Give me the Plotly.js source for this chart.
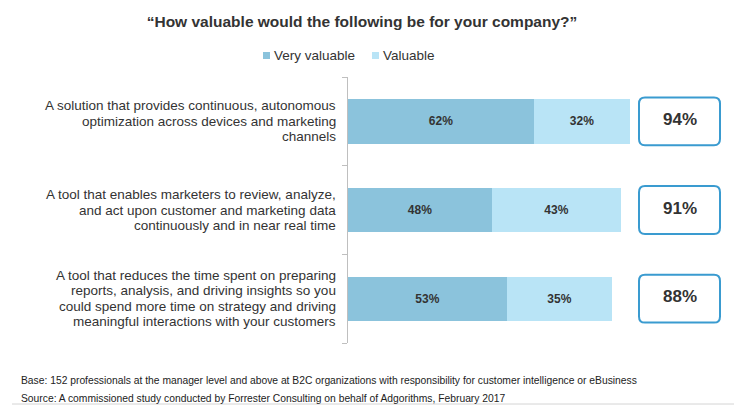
<!DOCTYPE html>
<html><head><meta charset="utf-8">
<script src="https://cdn.plot.ly/plotly-3.0.1.min.js"></script>
<style>body{margin:0;background:#fff}#c{width:752px;height:413px}</style>
</head><body><div id="c"></div>
<script>
const categories = [
  "A solution that provides continuous, autonomous<br>optimization across devices and marketing<br>channels",
  "A tool that enables marketers to review, analyze,<br>and act upon customer and marketing data<br>continuously and in near real time",
  "A tool that reduces the time spent on preparing<br>reports, analysis, and driving insights so you<br>could spend more time on strategy and driving<br>meaningful interactions with your customers"
];
const veryValuable = [62, 48, 53];
const valuable = [32, 43, 35];
const totals = [94, 91, 88];
const seriesNames = ["Very valuable", "Valuable"];
const seriesColors = ["#8bc3dc", "#b9e4f6"];

const L = 348, T = 77, PW = 375, PH = 266;
const px2x = p => (p - L) / PW;
const px2y = p => (T + PH - p) / PH;

const yIdx = categories.map((_, i) => i);
const FONT = "Liberation Sans, Arial, sans-serif";
const NARROW = "Liberation Sans Narrow, Arial Narrow, sans-serif";
const barFont = {family: FONT, size: 12, color: "#333333", weight: "bold"};

const traces = seriesNames.map((n, k) => ({
  type: "bar", orientation: "h", name: n, y: yIdx, x: k === 0 ? veryValuable : valuable,
  marker: {color: seriesColors[k]}, width: 0.5,
  text: (k === 0 ? veryValuable : valuable).map(v => v + "%"),
  textposition: "inside", insidetextanchor: "middle", textangle: 0, textfont: barFont,
  hoverinfo: "skip", showlegend: false
}));

const shapes = [];
const annotations = [];
const bx0 = 97, bx1 = 124, bh = 0.27, rx = 2, ry = 0.07;
totals.forEach((t, i) => {
  const y0 = i - bh, y1 = i + bh;
  shapes.push({type: "path", xref: "x", yref: "y",
    path: `M${bx0+rx},${y0} L${bx1-rx},${y0} Q${bx1},${y0} ${bx1},${y0+ry} L${bx1},${y1-ry} Q${bx1},${y1} ${bx1-rx},${y1} L${bx0+rx},${y1} Q${bx0},${y1} ${bx0},${y1-ry} L${bx0},${y0+ry} Q${bx0},${y0} ${bx0+rx},${y0} Z`,
    line: {color: "#3a9bd0", width: 2}, fillcolor: "rgba(0,0,0,0)"});
  annotations.push({xref: "x", yref: "y", x: (bx0 + bx1) / 2, y: i - 0.02, text: t + "%",
    showarrow: false, font: {family: FONT, size: 17, color: "#333333", weight: "bold"}});
  const lines = categories[i].split("<br>");
  lines.forEach((ln, j) => {
    annotations.push({xref: "paper", yref: "y", x: px2x(338), y: i, xanchor: "right", yanchor: "middle",
      yshift: -(j - (lines.length - 1) / 2) * 15.4, text: ln, showarrow: false,
      font: {family: FONT, size: 13.5, color: "#333333"}});
  });
});

// custom legend
const legendItems = [{sq: 263, tx: 272}, {sq: 372, tx: 381}];
legendItems.forEach((it, k) => {
  shapes.push({type: "rect", xref: "paper", yref: "paper", x0: px2x(it.sq), x1: px2x(it.sq + 7),
    y0: px2y(59), y1: px2y(52), line: {width: 0}, fillcolor: seriesColors[k]});
  annotations.push({xref: "paper", yref: "paper", x: px2x(it.tx), y: px2y(55.5), xanchor: "left", yanchor: "middle",
    text: seriesNames[k], showarrow: false, font: {family: NARROW, size: 13.5, color: "#333333"}});
});

// footnotes
annotations.push({xref: "paper", yref: "paper", x: px2x(19), y: px2y(380), xanchor: "left", yanchor: "middle",
  text: "Base: 152 professionals at the manager level and above at B2C organizations with responsibility for customer intelligence or eBusiness",
  showarrow: false, font: {family: NARROW, size: 10.3, color: "#222222"}});
annotations.push({xref: "paper", yref: "paper", x: px2x(19), y: px2y(398), xanchor: "left", yanchor: "middle",
  text: "Source: A commissioned study conducted by Forrester Consulting on behalf of Adgorithms, February 2017",
  showarrow: false, font: {family: NARROW, size: 10.3, color: "#222222"}});

shapes.push({type: "line", xref: "paper", yref: "paper", x0: px2x(12), x1: px2x(734),
  y0: px2y(404), y1: px2y(404), line: {color: "#d4d4d4", width: 1}});

const layout = {
  width: 752, height: 413,
  margin: {l: L, r: 752 - L - PW, t: T, b: 413 - T - PH},
  paper_bgcolor: "#ffffff", plot_bgcolor: "#ffffff",
  barmode: "stack",
  title: {text: "“How valuable would the following be for your company?”",
    x: 362 / 752, xref: "container", xanchor: "center", y: 1 - 22 / 413, yref: "container", yanchor: "middle",
    font: {family: FONT, size: 15.5, color: "#333333", weight: "bold"}},
  showlegend: false,
  xaxis: {range: [0, 125], showgrid: false, zeroline: false, showticklabels: false, ticks: "", showline: false, fixedrange: true},
  yaxis: {range: [2.5, -0.5], tickvals: [-0.5, 0.5, 1.5, 2.5], ticktext: ["", "", "", ""], ticks: "outside", ticklen: 5,
    tickcolor: "#bfbfbf", showline: true, linecolor: "#bfbfbf", linewidth: 1, showgrid: false, zeroline: false, fixedrange: true},
  shapes: shapes,
  annotations: annotations
};
Plotly.newPlot("c", traces, layout, {displayModeBar: false, staticPlot: true});
</script></body></html>
